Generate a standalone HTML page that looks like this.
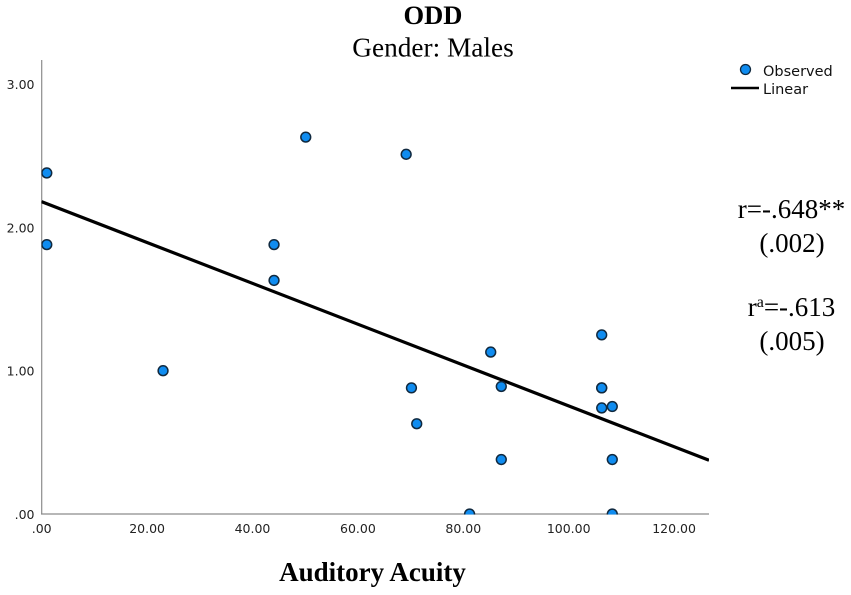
<!DOCTYPE html>
<html>
<head>
<meta charset="utf-8">
<style>
html,body{margin:0;padding:0;background:#fff;width:851px;height:595px;overflow:hidden}
svg{display:block}
.tick{font-family:"DejaVu Sans","Liberation Sans",sans-serif;font-size:12.5px;fill:#222}
.serif{font-family:"Liberation Serif",serif;fill:#000}
.legend{font-family:"DejaVu Sans","Liberation Sans",sans-serif;font-size:14.5px;fill:#111}
</style>
</head>
<body>
<svg id="chart" xmlns="http://www.w3.org/2000/svg" width="851" height="595" viewBox="0 0 851 595">
  <defs><clipPath id="plot-clip"><rect x="41.5" y="60" width="667.5" height="454.5"/></clipPath></defs>
  <text class="serif" x="433" y="24" text-anchor="middle" font-size="26.5" font-weight="bold">ODD</text>
  <text class="serif" x="433" y="56.5" text-anchor="middle" font-size="27.3">Gender: Males</text>
  <g id="axes"></g>
  <g id="fit" clip-path="url(#plot-clip)"></g>
  <g id="points" clip-path="url(#plot-clip)"></g>
  <text class="serif" x="372.5" y="581" text-anchor="middle" font-size="27" font-weight="bold">Auditory Acuity</text>
  <g>
    <circle cx="745.5" cy="69.5" r="5" fill="#0f8cf0" stroke="#10293f" stroke-width="1.3"/>
    <text class="legend" x="763" y="76">Observed</text>
    <line x1="731" y1="88" x2="759" y2="88" stroke="#000" stroke-width="2.6"/>
    <text class="legend" x="763" y="94">Linear</text>
  </g>
  <g>
    <text class="serif" x="791.5" y="218" text-anchor="middle" font-size="27">r=-.648**</text>
    <text class="serif" x="792" y="252" text-anchor="middle" font-size="27">(.002)</text>
    <text class="serif" x="791.5" y="316" text-anchor="middle" font-size="27">r<tspan font-size="16" dy="-9">a</tspan><tspan dy="9">=-.613</tspan></text>
    <text class="serif" x="792" y="350" text-anchor="middle" font-size="27">(.005)</text>
  </g>
</svg>
<script>
var xTickValues = [0, 20, 40, 60, 80, 100, 120];
var xTickLabels = [".00", "20.00", "40.00", "60.00", "80.00", "100.00", "120.00"];
var yTickValues = [0, 1, 2, 3];
var yTickLabels = [".00", "1.00", "2.00", "3.00"];
var xValues = [1, 1, 23, 44, 44, 50, 69, 70, 71, 81, 85, 87, 87, 106, 106, 106, 106, 108, 108, 108];
var yValues = [2.38, 1.88, 1, 1.88, 1.63, 2.63, 2.51, 0.88, 0.63, 0, 1.13, 0.89, 0.38, 1.25, 0.88, 0.88, 0.74, 0.75, 0.38, 0];
var fitX = [0, 126.3];
var fitY = [2.18, 0.375];

function xScale(v) { return 41.5 + v * 5.285; }
function yScale(v) { return 514 - v * 143.3; }
function xTickPos(v) { return 41.7 + v * 5.27; }
var NS = 'http://www.w3.org/2000/svg';
function make(tag, attrs, parent) {
  var el = document.createElementNS(NS, tag);
  for (var k in attrs) el.setAttribute(k, attrs[k]);
  parent.appendChild(el);
  return el;
}
var axes = document.getElementById('axes');
var yAxis = make('line', {x1: 41.7, y1: 60, x2: 41.7, y2: 514.5, stroke: '#8c8c8c', 'stroke-width': 1.2}, axes);


var xAxis = make('line', {x1: 41, y1: 514, x2: 709, y2: 514, stroke: '#8c8c8c', 'stroke-width': 1.2}, axes);


xTickValues.forEach(function (v, i) {
  var t = make('text', {x: xTickPos(v), y: 533, 'text-anchor': 'middle', 'class': 'tick'}, axes);
  
  
  t.textContent = xTickLabels[i];
});
yTickValues.forEach(function (v, i) {
  var t = make('text', {x: 34.5, y: yScale(v) + 5, 'text-anchor': 'end', 'class': 'tick'}, axes);
  
  
  t.textContent = yTickLabels[i];
});
var fit = document.getElementById('fit');
var fitLine = make('line', {x1: xScale(fitX[0]), y1: yScale(fitY[0]), x2: xScale(fitX[1]), y2: yScale(fitY[1]), stroke: '#000', 'stroke-width': 3.2}, fit);


var points = document.getElementById('points');
xValues.forEach(function (v, i) {
  var c = make('circle', {cx: xScale(v), cy: yScale(yValues[i]), r: 4.9, fill: '#0f8cf0', stroke: '#10293f', 'stroke-width': 1.5}, points);
  
  
});
</script>
</body>
</html>
